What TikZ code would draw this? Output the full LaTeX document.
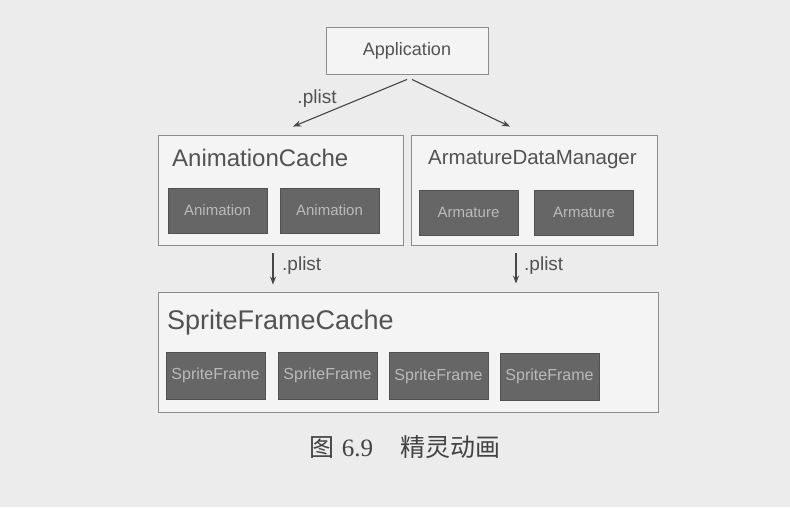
\documentclass[tikz,border=0pt]{standalone}
\usepackage{fontspec}
\setmainfont{Liberation Sans}
\newfontfamily\cjk{Noto Sans CJK SC}
\newfontfamily\serifnum{Liberation Serif}
\usetikzlibrary{arrows.meta}
\definecolor{bgc}{HTML}{ECECEC}
\definecolor{boxline}{HTML}{8C8C8C}
\definecolor{darkbox}{HTML}{666666}
\definecolor{lighttxt}{HTML}{BABABA}
\definecolor{txt}{HTML}{525252}
\tikzset{
  outerbox/.style={draw=boxline, line width=0.9pt, fill=white!40!bgc, rectangle, inner sep=0pt},
  innerbox/.style={draw=darkbox!80!black, line width=0.6pt, fill=darkbox, rectangle, inner sep=0pt,
    minimum width=99pt, minimum height=45pt, text=lighttxt, font=\fontsize{15}{18}\selectfont},
  title/.style={text=txt, inner sep=0pt, anchor=west},
  arr/.style={draw=txt!85!black, line width=1.1pt, -{Stealth[length=8pt,width=6pt]}},
  lbl/.style={text=txt, inner sep=0pt, font=\fontsize{19}{22}\selectfont}
}
\begin{document}
\begin{tikzpicture}[x=1pt,y=-1pt]
\useasboundingbox[fill=bgc] (0,0) rectangle (790,507);
% outer boxes
\node[outerbox, minimum width=162pt, minimum height=47pt, text=txt, font=\fontsize{18}{21}\selectfont] (app) at (407,50.5) {Application};
\node[outerbox, minimum width=245pt, minimum height=110pt] (ac) at (280.5,190) {};
\node[outerbox, minimum width=246pt, minimum height=110pt] (adm) at (534,190) {};
\node[outerbox, minimum width=500pt, minimum height=120pt] (sfc) at (408,352) {};
% titles
\node[title, font=\fontsize{24}{28}\selectfont] (acT) at (172,158) {AnimationCache};
\node[title, font=\fontsize{20.5}{24}\selectfont] (admT) at (428,160) {ArmatureDataManager};
\node[title, font=\fontsize{27}{32}\selectfont] (sfcT) at (167,323) {SpriteFrameCache};
% inner boxes
\node[innerbox] (an1) at (217.5,210.5) {Animation};
\node[innerbox] (an2) at (329.5,210.5) {Animation};
\node[innerbox] (ar1) at (468.5,212.5) {Armature};
\node[innerbox] (ar2) at (584,212.5) {Armature};
\node[innerbox, minimum height=47pt, font=\fontsize{16}{19}\selectfont] (sf1) at (215.5,375.5) {SpriteFrame};
\node[innerbox, minimum height=47pt, font=\fontsize{16}{19}\selectfont] (sf2) at (327.5,375.5) {SpriteFrame};
\node[innerbox, minimum height=47pt, font=\fontsize{16}{19}\selectfont] (sf3) at (438.5,376) {SpriteFrame};
\node[innerbox, minimum height=47pt, font=\fontsize{16}{19}\selectfont] (sf4) at (549.5,376.5) {SpriteFrame};
% arrows
\draw[arr] ([shift={(0,5)}]app.south) -- ([shift={(12.5,-8)}]ac.north);
\draw[arr] ([shift={(5,5)}]app.south) -- ([shift={(-24,-8)}]adm.north);
\coordinate (d1) at ([shift={(-7.5,8)}]ac.south);
\coordinate (d2) at ([shift={(-18,8)}]adm.south);
\draw[arr, shorten >=7pt] (d1) -- (d1 |- sfc.north);
\draw[arr, shorten >=8pt] (d2) -- (d2 |- sfc.north);
% labels
\node[lbl] (l1) at (317,99) {.plist};
\node[lbl, anchor=west] (l2) at (282,266) {.plist};
\node[lbl, anchor=west] (l3) at (524,266) {.plist};
% caption
\node[text=txt!80!black, inner sep=0pt, font=\fontsize{25}{30}\selectfont] (cap) at (405,447) {{\cjk 图}\hspace{0.3em}{\serifnum 6.9}\hspace{1.1em}{\cjk 精灵动画}};
\end{tikzpicture}
\end{document}
